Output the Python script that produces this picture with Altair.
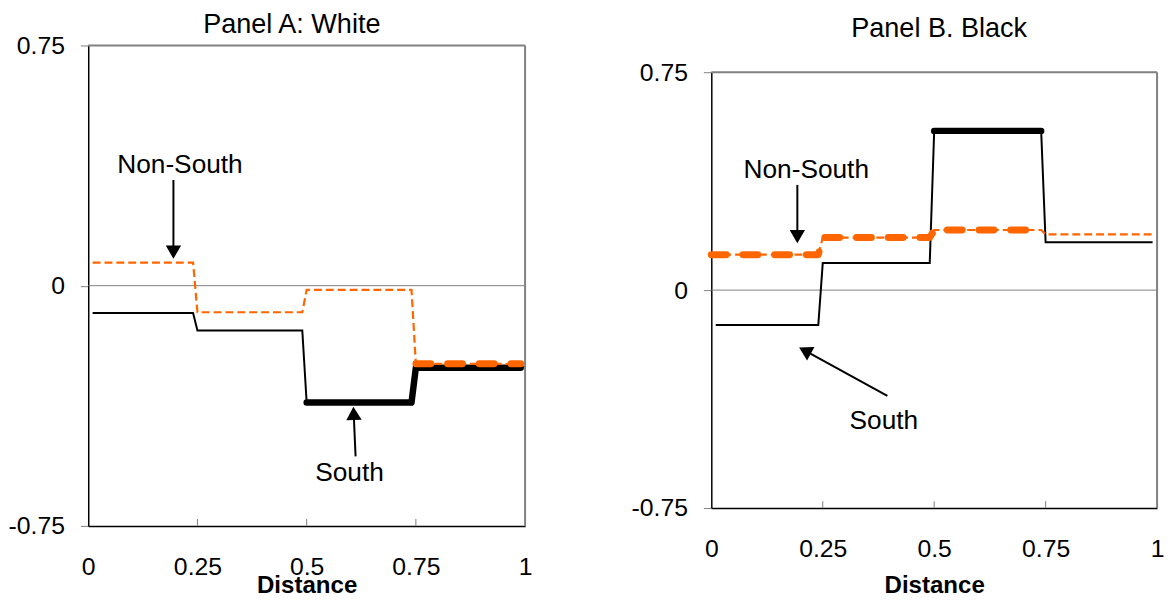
import math
import altair as alt
import pandas as pd

FONT = "Liberation Sans"
ORANGE = "#FF6600"
GRAY = "#808080"

# ---------------- data ----------------
# Panel A: White
a_x_south = [0.01, 0.24, 0.25, 0.49, 0.50, 0.74, 0.75, 0.99]
a_south = [-0.085, -0.085, -0.140, -0.140, -0.365, -0.365, -0.256, -0.256]
a_x_nonsouth = [0.01, 0.24, 0.25, 0.49, 0.50, 0.74, 0.75, 0.99]
a_nonsouth = [0.072, 0.072, -0.083, -0.083, -0.013, -0.013, -0.244, -0.244]
a_south_bold = (4, 7)      # point index range drawn bold
a_nonsouth_bold = (6, 7)

# Panel B: Black
b_x_south = [0.01, 0.24, 0.25, 0.49, 0.50, 0.74, 0.75, 0.99]
b_south = [-0.120, -0.120, 0.093, 0.093, 0.548, 0.548, 0.165, 0.165]
b_x_nonsouth = [0.00, 0.24, 0.25, 0.49, 0.50, 0.74, 0.75, 0.99]
b_nonsouth = [0.122, 0.122, 0.181, 0.181, 0.207, 0.207, 0.192, 0.192]
b_south_bold = (4, 5)
b_nonsouth_bold = (0, 5)

# annotations: label text, label x, label y
a_labels = ["Non-South", "South"]
a_label_x = [0.210, 0.598]
a_label_y = [0.375, -0.584]
# arrows: tail (x, y) -> tip (x, y)
a_arrow_tail_x = [0.195, 0.612]
a_arrow_tail_y = [0.330, -0.533]
a_arrow_tip_x = [0.195, 0.607]
a_arrow_tip_y = [0.084, -0.378]

b_labels = ["Non-South", "South"]
b_label_x = [0.213, 0.387]
b_label_y = [0.413, -0.452]
b_arrow_tail_x = [0.193, 0.395]
b_arrow_tail_y = [0.362, -0.364]
b_arrow_tip_x = [0.193, 0.197]
b_arrow_tip_y = [0.161, -0.197]

x_ticks = [0, 0.25, 0.5, 0.75, 1]
y_ticks = [-0.75, 0, 0.75]
inner_ticks = [0.25, 0.5, 0.75]

HEAD_SIZE = 240
HEAD_H = math.sqrt(3) / 2 * math.sqrt(HEAD_SIZE) / 2  # centre-to-tip distance


def panel(title, xs, ys_s, xn, ys_n, bold_s, bold_n, labels, lx, ly,
          tx, ty, px, py, W, H, top, t_offset, t_dx, title_y):
    PH = H - top  # plot height in pixels
    xsc = alt.Scale(domain=[0, 1], nice=False, zero=False)
    ysc = alt.Scale(domain=[-0.75, 0.75], nice=False, zero=False, range=[H, top])
    X = alt.X("x:Q", scale=xsc,
              axis=alt.Axis(values=x_ticks, labelExpr="'' + datum.value",
                            ticks=False, labelPadding=29, labelFlush=False,
                            labelFont=FONT, labelFontSize=25, labelColor="black",
                            domainColor="black", domainWidth=1.5, grid=False,
                            title="Distance", titleFont=FONT, titleFontSize=24.3,
                            titleFontWeight="bold", titleColor="black",
                            titleBaseline="top", titleY=title_y))
    Y = alt.Y("y:Q", scale=ysc,
              axis=alt.Axis(values=y_ticks, labelExpr="'' + datum.value",
                            tickSize=8, tickColor=GRAY, tickWidth=1,
                            labelPadding=16, labelFont=FONT, labelFontSize=25,
                            labelColor="black", domainColor="black",
                            domainWidth=1.5, grid=False, title=None))

    zero = alt.Chart(pd.DataFrame({"y": [0]})).mark_rule(
        color=GRAY, strokeWidth=1).encode(y=alt.Y("y:Q", scale=ysc))

    # plot-area frame (top and right edges)
    top_edge = alt.Chart(pd.DataFrame({"y": [0.75]})).mark_rule(
        color=GRAY, strokeWidth=2).encode(y=alt.Y("y:Q", scale=ysc))
    right_edge = alt.Chart(pd.DataFrame({"x": [1], "y": [-0.75], "y2": [0.75]})).mark_rule(
        color=GRAY, strokeWidth=2).encode(x=alt.X("x:Q", scale=xsc),
                                          y=alt.Y("y:Q", scale=ysc), y2="y2:Q")

    tk = alt.Chart(pd.DataFrame({"x": inner_ticks})).mark_rule(
        color=GRAY, strokeWidth=1).encode(
        x=alt.X("x:Q", scale=xsc), y=alt.value(H - 7), y2=alt.value(H))

    df_s = pd.DataFrame({"x": xs, "y": ys_s, "o": range(len(xs))})
    df_n = pd.DataFrame({"x": xn, "y": ys_n, "o": range(len(xn))})
    df_sb = df_s.iloc[bold_s[0]:bold_s[1] + 1]
    df_nb = df_n.iloc[bold_n[0]:bold_n[1] + 1]

    s_thin = alt.Chart(df_s).mark_line(color="black", strokeWidth=2).encode(
        x=X, y=Y, order="o:Q")
    s_bold = alt.Chart(df_sb).mark_line(color="black", strokeWidth=6.5,
                                        strokeCap="round", strokeJoin="round").encode(
        x=X, y=Y, order="o:Q")
    n_thin = alt.Chart(df_n).mark_line(color=ORANGE, strokeWidth=2.2,
                                       strokeDash=[8, 4]).encode(
        x=X, y=Y, order="o:Q")
    n_bold = alt.Chart(df_nb).mark_line(color=ORANGE, strokeWidth=7,
                                        strokeDash=[15, 17], strokeCap="round",
                                        strokeJoin="round").encode(
        x=X, y=Y, order="o:Q")

    txt = alt.Chart(pd.DataFrame({"x": lx, "y": ly, "t": labels})).mark_text(
        font=FONT, fontSize=26.5, color="black", align="center",
        baseline="middle").encode(x=X, y=Y, text="t:N")

    # arrow heads
    hx, hy, ang = [], [], []
    for i in range(len(tx)):
        sx = (px[i] - tx[i]) * W
        sy = -(py[i] - ty[i]) * PH / 1.5
        th = math.atan2(sx, -sy)
        hx.append(px[i] - HEAD_H * math.sin(th) / W)
        hy.append(py[i] - HEAD_H * math.cos(th) * 1.5 / PH)
        ang.append(math.degrees(th) % 360)
    arr_df = pd.DataFrame({"x": tx, "y": ty, "x2": hx, "y2": hy})
    arrows = alt.Chart(arr_df).mark_rule(color="black", strokeWidth=2).encode(
        x=X, y=Y, x2="x2:Q", y2="y2:Q")
    heads = alt.Chart(pd.DataFrame({"x": hx, "y": hy, "a": ang})).mark_point(
        shape="triangle-up", filled=True, color="black", opacity=1,
        size=HEAD_SIZE, strokeWidth=0).encode(x=X, y=Y, angle=alt.Angle("a:Q", scale=None))

    return alt.layer(zero, top_edge, right_edge, tk, s_thin, s_bold, n_thin, n_bold,
                     arrows, heads, txt).properties(
        width=W, height=H,
        title=alt.TitleParams(title, font=FONT, fontSize=27.3, fontWeight="normal",
                              color="black", anchor="middle", frame="group",
                              baseline="bottom", offset=t_offset, dx=t_dx))


pa = panel("Panel A: White", a_x_south, a_south, a_x_nonsouth, a_nonsouth,
           a_south_bold, a_nonsouth_bold, a_labels, a_label_x, a_label_y,
           a_arrow_tail_x, a_arrow_tail_y, a_arrow_tip_x, a_arrow_tip_y,
           441, 485, 0, -33, -15, 48)
pb = panel("Panel B. Black", b_x_south, b_south, b_x_nonsouth, b_nonsouth,
           b_south_bold, b_nonsouth_bold, b_labels, b_label_x, b_label_y,
           b_arrow_tail_x, b_arrow_tail_y, b_arrow_tip_x, b_arrow_tip_y,
           450, 467, 27, -25, 5, 66)

chart = alt.hconcat(pa, pb, spacing=100).properties(
    padding={"left": 0, "top": 0, "right": 0, "bottom": 0},
    background="white").configure_view(stroke="transparent", strokeWidth=0)

chart.save("out.html", embed_options={"renderer": "svg", "actions": False})
